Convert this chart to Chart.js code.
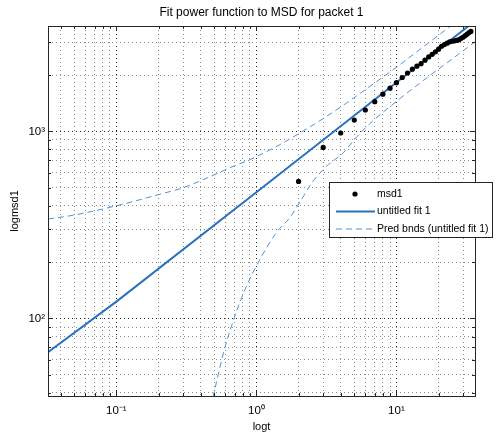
<!DOCTYPE html>
<html>
<head>
<meta charset="utf-8">
<script src="https://cdn.jsdelivr.net/npm/chart.js@4.4.1/dist/chart.umd.min.js"></script>
<style>
  html, body { margin: 0; padding: 0; background: #fff; }
  #wrap { width: 504px; height: 435px; }
</style>
</head>
<body>
<div id="wrap"><canvas id="grafico" width="504" height="435"></canvas></div>
<script>
// measured msd for packet 1 (t in frames)
const tempos = [2, 3, 4, 5, 6, 7, 8, 9, 10, 11, 12, 13, 14, 15, 16, 17, 18, 19, 20, 21, 22, 23, 24, 25, 26, 27, 28, 29, 30, 31, 32, 33, 34];
const msd1 = [540, 820, 980, 1150, 1300, 1440, 1580, 1700, 1820, 1940, 2050, 2150, 2230, 2300, 2400, 2500, 2580, 2660, 2750, 2850, 2910, 2960, 3010, 3030, 3045, 3060, 3090, 3140, 3190, 3250, 3310, 3370, 3420];

// power fit
const fitT = [0.0325, 0.1, 1, 10, 36.4];
const fitY = [66, 123, 473, 1824, 3890];

// prediction bounds
const bndSupT = [0.0325, 0.05, 0.1, 0.2, 0.3, 0.5, 0.65, 0.9, 1.47, 2.05, 3.17, 4.4, 6.47, 10, 14.7, 22, 30];
const bndSupY = [340, 357, 400, 459, 500, 585, 640, 706, 849, 981, 1202, 1417, 1740, 2200, 2740, 3450, 4130];
const bndInfT = [0.49, 0.59, 0.69, 0.83, 1.06, 1.4, 1.74, 2.05, 2.5, 3.17, 4.17, 5, 6.47, 10, 14.7, 22.8, 36.4];
const bndInfY = [38, 68, 99, 143, 207, 290, 347, 420, 533, 651, 767, 903, 1100, 1445, 1811, 2316, 3006];

// eixos
const xMin = 0.0325, xMax = 36.4;
const yMin = 38.5, yMax = 3656;
const xTickVals = [0.1, 1, 10];
const xTickLabels = ["10\u207B\u00B9", "10\u2070", "10\u00B9"];
const yTickVals = [100, 1000];
const yTickLabels = ["10\u00B2", "10\u00B3"];

const FONTE = "'Liberation Sans', Arial, sans-serif";
const AZUL = "#2a72bc";
const AZUL_CLARO = "#4f93d6";

function pares(xs, ys) {
  return xs.map((x, i) => ({ x, y: ys[i] }));
}

// posicoes de grade 1..9 x 10^n dentro do intervalo
function valoresGrade(min, max) {
  const out = [];
  for (let e = Math.floor(Math.log10(min)); e <= Math.ceil(Math.log10(max)); e++) {
    for (let m = 1; m <= 9; m++) {
      const v = m * Math.pow(10, e);
      if (v >= min * 0.999 && v <= max * 1.001) out.push(+v.toPrecision(6));
    }
  }
  return out;
}

function ehDecada(v) {
  const l = Math.log10(v);
  return Math.abs(l - Math.round(l)) < 1e-6;
}

function rotulo(vals, labels) {
  return v => {
    const i = vals.findIndex(t => Math.abs(t - v) / t < 1e-6);
    return i >= 0 ? labels[i] : "";
  };
}

const gradeCor = ctx => (ctx.tick && ehDecada(ctx.tick.value)) ? "#222" : "#8a8a8a";

// titulo, caixa, ticks internos e legenda no estilo MATLAB
const pluginMoldura = {
  id: "moldura",
  afterDraw(chart) {
    const { ctx, chartArea: a, scales } = chart;
    ctx.save();

    // ticks para dentro
    ctx.strokeStyle = "#262626";
    ctx.lineWidth = 1;
    ctx.beginPath();
    valoresGrade(xMin, xMax).forEach(v => {
      const x = Math.round(scales.x.getPixelForValue(v)) + 0.5;
      const len = ehDecada(v) ? 5 : 3;
      ctx.moveTo(x, a.bottom); ctx.lineTo(x, a.bottom - len);
      ctx.moveTo(x, a.top); ctx.lineTo(x, a.top + len);
    });
    valoresGrade(yMin, yMax).forEach(v => {
      const y = Math.round(scales.y.getPixelForValue(v)) + 0.5;
      const len = ehDecada(v) ? 5 : 3;
      ctx.moveTo(a.left, y); ctx.lineTo(a.left + len, y);
      ctx.moveTo(a.right, y); ctx.lineTo(a.right - len, y);
    });
    ctx.stroke();

    // caixa
    ctx.strokeStyle = "#262626";
    ctx.strokeRect(Math.round(a.left) + 0.5, Math.round(a.top) + 0.5,
      Math.round(a.right - a.left), Math.round(a.bottom - a.top));

    // titulo
    ctx.fillStyle = "#000";
    ctx.font = "12px " + FONTE;
    ctx.textAlign = "center";
    ctx.textBaseline = "middle";
    ctx.fillText("Fit power function to MSD for packet 1", (a.left + a.right) / 2, 13);

    // legenda
    const lx = 329, ly = 182, lw = 163, lh = 55;
    ctx.fillStyle = "#fff";
    ctx.fillRect(lx, ly, lw, lh);
    ctx.strokeStyle = "#262626";
    ctx.strokeRect(lx + 0.5, ly + 0.5, lw, lh);

    const ds = chart.data.datasets;
    const linhas = [ds[0], ds[1], ds[2]];
    ctx.font = "10.5px " + FONTE;
    ctx.textAlign = "left";
    ctx.textBaseline = "middle";
    linhas.forEach((d, i) => {
      const y = ly + 12 + i * 17.5;
      if (i === 0) {
        ctx.fillStyle = "#000";
        ctx.beginPath();
        ctx.arc(355, y, 2.6, 0, Math.PI * 2);
        ctx.fill();
      } else {
        ctx.strokeStyle = d.borderColor;
        ctx.lineWidth = d.borderWidth;
        ctx.setLineDash(d.borderDash || []);
        ctx.beginPath();
        ctx.moveTo(336, y); ctx.lineTo(375, y);
        ctx.stroke();
        ctx.setLineDash([]);
      }
      ctx.fillStyle = "#000";
      ctx.fillText(d.label, 377, y);
    });
    ctx.restore();
  }
};

new Chart(document.getElementById("grafico").getContext("2d"), {
  type: "scatter",
  data: {
    datasets: [
      {
        label: "msd1",
        data: pares(tempos, msd1),
        showLine: false,
        pointRadius: 2.6,
        pointBackgroundColor: "#000",
        pointBorderColor: "#000",
        pointBorderWidth: 0
      },
      {
        label: "untitled fit 1",
        data: pares(fitT, fitY),
        showLine: true,
        borderColor: AZUL,
        borderWidth: 2,
        pointRadius: 0,
        tension: 0
      },
      {
        label: "Pred bnds (untitled fit 1)",
        data: pares(bndSupT, bndSupY),
        showLine: true,
        borderColor: AZUL_CLARO,
        borderWidth: 1,
        borderDash: [6, 4],
        pointRadius: 0,
        cubicInterpolationMode: "monotone"
      },
      {
        label: "Pred bnds (untitled fit 1)",
        data: pares(bndInfT, bndInfY),
        showLine: true,
        borderColor: AZUL_CLARO,
        borderWidth: 1,
        borderDash: [6, 4],
        pointRadius: 0,
        cubicInterpolationMode: "monotone"
      }
    ]
  },
  options: {
    responsive: false,
    animation: false,
    devicePixelRatio: 1,
    layout: { padding: { left: 8, right: 29, top: 26, bottom: 0 } },
    plugins: {
      legend: { display: false },
      title: { display: false },
      tooltip: { enabled: false }
    },
    scales: {
      x: {
        type: "logarithmic",
        min: xMin,
        max: xMax,
        afterBuildTicks: s => { s.ticks = valoresGrade(xMin, xMax).map(v => ({ value: v })); },
        afterFit: s => { s.height = 39; },
        grid: { color: gradeCor, lineWidth: 1, drawTicks: false },
        border: { display: false, dash: [1, 3] },
        ticks: {
          autoSkip: false,
          maxRotation: 0,
          padding: 8,
          color: "#000",
          font: { family: FONTE, size: 11.5 },
          callback: rotulo(xTickVals, xTickLabels)
        },
        title: {
          display: true,
          text: "logt",
          color: "#000",
          font: { family: FONTE, size: 11 },
          padding: 1.4
        }
      },
      y: {
        type: "logarithmic",
        min: yMin,
        max: yMax,
        afterBuildTicks: s => { s.ticks = valoresGrade(yMin, yMax).map(v => ({ value: v })); },
        afterFit: s => { s.width = 40; },
        grid: { color: gradeCor, lineWidth: 1, drawTicks: false },
        border: { display: false, dash: [1, 3] },
        ticks: {
          autoSkip: false,
          padding: 3,
          color: "#000",
          font: { family: FONTE, size: 11.5 },
          callback: rotulo(yTickVals, yTickLabels)
        },
        title: {
          display: true,
          text: "logmsd1",
          color: "#000",
          font: { family: FONTE, size: 11 },
          padding: 0
        }
      }
    }
  },
  plugins: [pluginMoldura]
});
</script>
</body>
</html>
